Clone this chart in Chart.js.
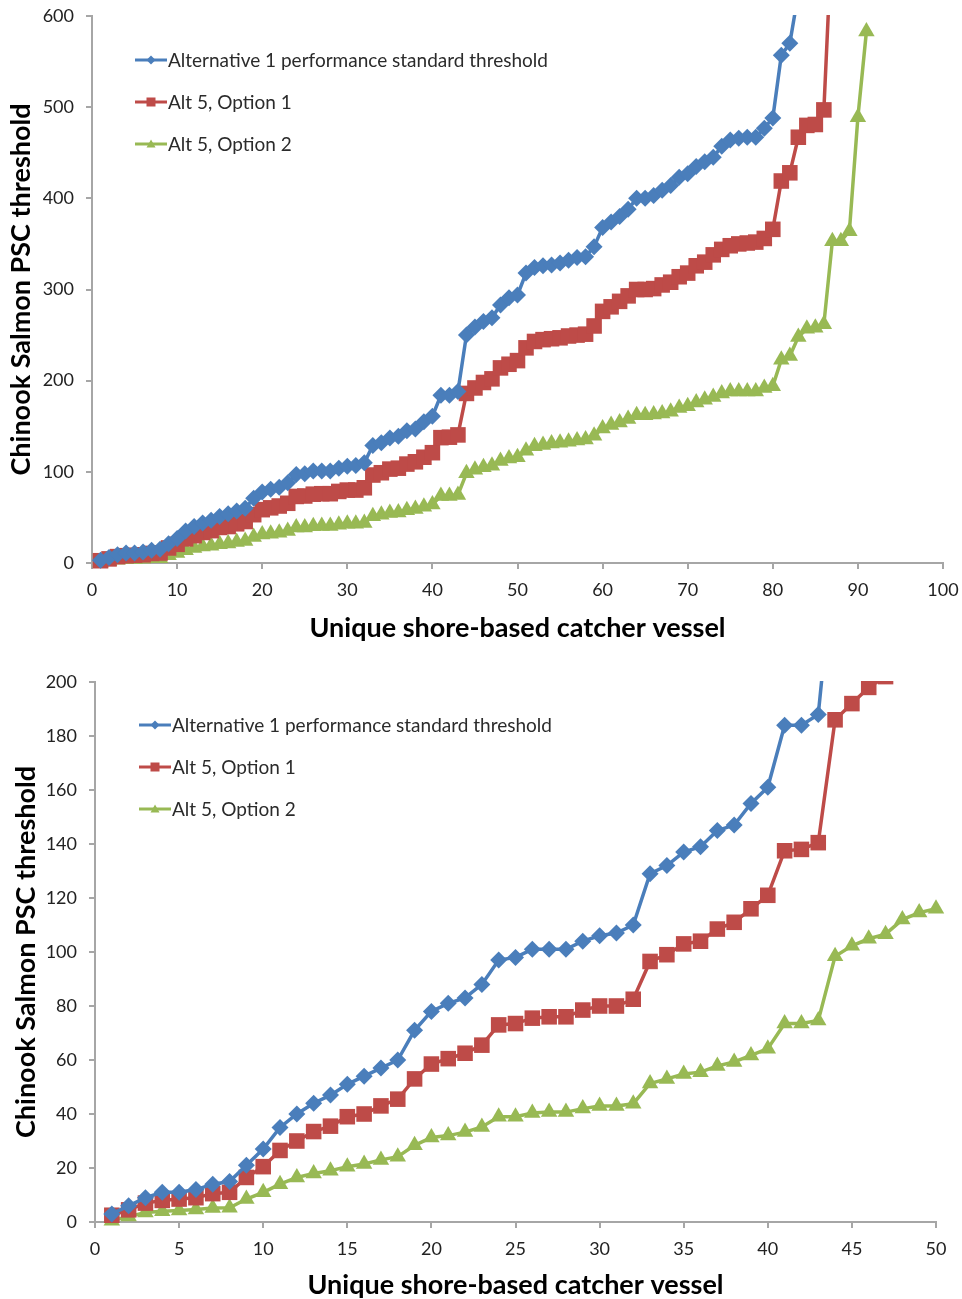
<!DOCTYPE html>
<html>
<head>
<meta charset="utf-8">
<script src="https://cdn.jsdelivr.net/npm/chart.js@4.4.1/dist/chart.umd.min.js"></script>
<style>
  html, body { margin: 0; padding: 0; background: #fff; }
  #top { position: absolute; left: 0; top: 0; width: 962px; height: 652px; }
  #bottom { position: absolute; left: 0; top: 660px; width: 962px; height: 639px; }
</style>
</head>
<body>
<div id="top"><canvas id="topChart" width="962" height="652"></canvas></div>
<div id="bottom"><canvas id="bottomChart" width="962" height="639"></canvas></div>
<script>
// thresholds per vessel (vessel number = position in the list, starting at 1)
const alt1Threshold = [
  3, 6, 9, 11, 11, 12, 14, 15, 21, 27,
  35, 40, 44, 47, 51, 54, 57, 60, 71, 78,
  81, 83, 88, 97, 98, 101, 101, 101, 104, 106,
  107, 110, 129, 132, 137, 139, 145, 147, 155, 161,
  184, 184, 188, 250, 259, 265, 269, 283, 291, 294,
  318, 324, 326, 327, 329, 332, 335, 336, 347, 368,
  374, 380, 388, 400, 400, 403, 409, 414, 423, 427,
  435, 440, 445, 457, 464, 466, 467, 467, 477, 488,
  557, 570, 625
];
const alt5Option1 = [
  2.5, 4.5, 7, 8, 8.5, 9, 10.5, 11, 16.5, 20.5,
  26.5, 30, 33.5, 35.5, 39, 40, 43, 45.5, 53, 58.5,
  60.5, 62.5, 65.5, 73, 73.5, 75.5, 76, 76, 78.5, 80,
  80, 82.5, 96.5, 99, 103, 104, 108.5, 111, 116, 121,
  137.5, 138, 140.5, 186, 192, 198, 202, 214, 218, 222,
  236, 243, 245, 246, 247, 249, 250, 251, 260, 276,
  281, 287, 293, 300, 300, 301, 305, 308, 314, 318,
  326, 330, 338, 344, 348, 350, 351, 352, 356, 366,
  419, 428, 467, 480, 481, 497, 700
];
const alt5Option2 = [
  0.5, 2, 3.5, 4, 4.3, 4.6, 5.2, 5.3, 8.5, 11,
  14, 16.5, 18, 19, 20.5, 21.5, 23, 24.2, 28.4, 31.3,
  32, 33.3, 35.2, 39, 39, 40.4, 40.7, 40.7, 42, 43,
  43, 43.8, 51.3, 53, 54.8, 55.5, 57.8, 59.3, 61.7, 64.2,
  73.5, 73.5, 74.6, 98.4, 102.3, 104.9, 106.6, 112, 114.6, 116,
  123, 128, 129.5, 131, 132, 133, 134.5, 135.5, 139.5, 147.5,
  151.5, 154, 158, 162, 162, 163, 164, 166, 170, 172,
  176, 179, 182, 186, 188, 188, 188, 188, 192, 194,
  223, 227, 248, 257, 258, 262, 353, 353, 364, 489,
  583
];

const seriesLabels = [
  'Alternative 1 performance standard threshold',
  'Alt 5, Option 1',
  'Alt 5, Option 2'
];

const topXTicks = { min: 0, max: 100, step: 10 };
const topYTicks = { min: 0, max: 600, step: 100 };
const bottomXTicks = { min: 0, max: 50, step: 5 };
const bottomYTicks = { min: 0, max: 200, step: 20 };

const xTitle = 'Unique shore-based catcher vessel';
const yTitle = 'Chinook Salmon PSC threshold';

const FONT = 'Lato, "Open Sans", sans-serif';
const AXIS_GREY = '#a6a6a6';

const styles = [
  { color: '#4a7ebb', pointStyle: 'rectRot', pointRadius: 8.5 },
  { color: '#be4b48', pointStyle: 'rect', pointRadius: 11 },
  { color: '#98b954', pointStyle: 'triangle', pointRadius: 9.5 }
];

function toPoints(values, lastVessel) {
  return values
    .map((v, i) => ({ x: i + 1, y: v }))
    .filter(p => p.x <= lastVessel);
}

function makeDatasets(lastVessel) {
  return [alt1Threshold, alt5Option1, alt5Option2].map((vals, i) => ({
    label: seriesLabels[i],
    data: toPoints(vals, lastVessel),
    borderColor: styles[i].color,
    backgroundColor: styles[i].color,
    borderWidth: 3.5,
    pointStyle: styles[i].pointStyle,
    pointRadius: styles[i].pointRadius,
    pointBorderWidth: 0,
    pointHoverRadius: styles[i].pointRadius,
    tension: 0,
    clip: { left: 12, top: 1, right: 12, bottom: 12 }
  }));
}

// little marker drawer for the legend
function drawMarker(ctx, style, x, y, r, color) {
  ctx.fillStyle = color;
  ctx.beginPath();
  if (style === 'rectRot') {
    ctx.moveTo(x, y - r); ctx.lineTo(x + r, y); ctx.lineTo(x, y + r); ctx.lineTo(x - r, y);
  } else if (style === 'rect') {
    ctx.rect(x - r, y - r, 2 * r, 2 * r);
  } else {
    ctx.moveTo(x, y - r); ctx.lineTo(x + r, y + r * 0.8); ctx.lineTo(x - r, y + r * 0.8);
  }
  ctx.closePath();
  ctx.fill();
}

const sideLegend = {
  id: 'sideLegend',
  afterDatasetsDraw(chart, args, opts) {
    const ctx = chart.ctx;
    ctx.save();
    chart.data.datasets.forEach((ds, i) => {
      const y = opts.top + i * opts.gap;
      ctx.strokeStyle = ds.borderColor;
      ctx.lineWidth = 3;
      ctx.beginPath();
      ctx.moveTo(opts.left, y);
      ctx.lineTo(opts.left + 32, y);
      ctx.stroke();
      drawMarker(ctx, ds.pointStyle, opts.left + 16, y, 4.5, ds.backgroundColor);
      ctx.fillStyle = '#2b2b2b';
      ctx.font = '19px ' + FONT;
      ctx.textBaseline = 'middle';
      ctx.textAlign = 'left';
      ctx.fillText(ds.label, opts.left + 33, y + 1);
    });
    ctx.restore();
  }
};

function makeChart(canvasId, lastVessel, xT, yT, layout) {
  return new Chart(document.getElementById(canvasId), {
    type: 'line',
    data: { datasets: makeDatasets(lastVessel) },
    plugins: [sideLegend],
    options: {
      responsive: false,
      animation: false,
      devicePixelRatio: 1,
      layout: { padding: layout.padding },
      plugins: {
        legend: { display: false },
        tooltip: { enabled: false },
        sideLegend: layout.legend
      },
      scales: {
        x: {
          type: 'linear',
          min: xT.min,
          max: xT.max,
          grid: { drawOnChartArea: false, drawTicks: true, tickLength: 6, color: AXIS_GREY, lineWidth: 2 },
          border: { color: AXIS_GREY, width: 2 },
          ticks: { stepSize: xT.step, padding: 10, color: '#222', font: { family: FONT, size: 18 } },
          title: {
            display: true, text: xTitle, color: '#000',
            font: { family: FONT, size: 27, weight: 'bold', lineHeight: 1 },
            padding: { top: 0, bottom: layout.xTitlePad }
          },
          afterFit: (scale) => {
            scale.height = layout.xHeight;
            scale.paddingLeft = 0;
            scale.paddingRight = 0;
          }
        },
        y: {
          min: yT.min,
          max: yT.max,
          grid: { drawOnChartArea: false, drawTicks: true, tickLength: 6, color: AXIS_GREY, lineWidth: 2 },
          border: { color: AXIS_GREY, width: 2 },
          ticks: { stepSize: yT.step, padding: 12, color: '#222', font: { family: FONT, size: 18 } },
          title: {
            display: true, text: yTitle, color: '#000',
            font: { family: FONT, size: 27, weight: 'bold', lineHeight: 1 },
            padding: { top: layout.yTitlePad, bottom: 0 }
          },
          afterFit: (scale) => {
            scale.width = layout.yWidth;
            scale.paddingTop = 0;
            scale.paddingBottom = 0;
          }
        }
      }
    }
  });
}

makeChart('topChart', 200, topXTicks, topYTicks, {
  padding: { left: 0, right: 19, top: 16, bottom: 0 },
  xHeight: 89, yWidth: 92, xTitlePad: 10, yTitlePad: 8,
  legend: { left: 135, top: 60, gap: 42 }
});

makeChart('bottomChart', bottomXTicks.max, bottomXTicks, bottomYTicks, {
  padding: { left: 0, right: 26, top: 22, bottom: 0 },
  xHeight: 77, yWidth: 95, xTitlePad: 0, yTitlePad: 13,
  legend: { left: 139, top: 65, gap: 42 }
});
</script>
</body>
</html>
